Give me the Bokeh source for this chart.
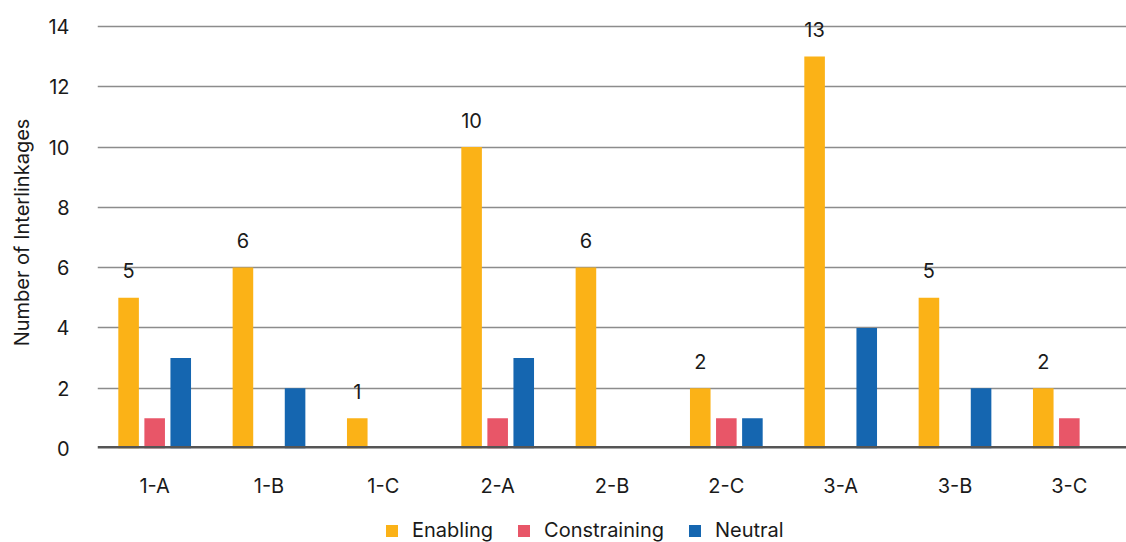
from bokeh.plotting import figure
from bokeh.layouts import column
from bokeh.models import ColumnDataSource, FactorRange, Range1d, Legend, LegendItem, Span, FixedTicker
from bokeh.transform import dodge
from bokeh.core.properties import value
from bokeh.embed import file_html
from bokeh.resources import INLINE

categories = ["1-A", "1-B", "1-C", "2-A", "2-B", "2-C", "3-A", "3-B", "3-C"]
enabling = [5, 6, 1, 10, 6, 2, 13, 5, 2]
constraining = [1, 0, 0, 1, 0, 1, 0, 0, 1]
neutral = [3, 2, 0, 3, 0, 1, 4, 2, 0]
y_ticks = [0, 2, 4, 6, 8, 10, 12, 14]
series_names = ["Enabling", "Constraining", "Neutral"]

FONT = "Inter"
FS = "20px"
TEXT_COLOR = "#1a1a1a"
COLORS = ["#FBB217", "#E85668", "#1566B0"]

src = ColumnDataSource(dict(
    cat=categories,
    en=enabling,
    co=constraining,
    ne=neutral,
    en_lbl=[str(v) for v in enabling],
))

# headroom above 14 keeps the tallest value label inside the plot area
p = figure(
    width=1126, height=500,
    x_range=FactorRange(*categories, range_padding=0),
    y_range=Range1d(0, 14.33),
    output_backend="svg", toolbar_location=None,
    min_border_left=97, min_border_right=0, min_border_top=16, min_border_bottom=49,
)
p.outline_line_color = None
p.background_fill_color = "white"
p.border_fill_color = "white"

bw = 0.18
off = 0.228
for field, dx, color in zip(["en", "co", "ne"], [-off, 0.0, off], COLORS):
    p.vbar(x=dodge("cat", dx, range=p.x_range), top=field, width=bw, source=src,
           fill_color=color, line_color=None)

# value labels above the Enabling bars
p.text(x=dodge("cat", -off, range=p.x_range), y="en", text="en_lbl", source=src,
       text_font=value(FONT), text_font_size=FS, text_color=TEXT_COLOR,
       text_align="center", text_baseline="middle", y_offset=-27)

# baseline
p.add_layout(Span(location=0, dimension="width", line_color="#555555", line_width=5))

p.ygrid.grid_line_color = "#8c8c8c"
p.ygrid.grid_line_width = 1.6
p.xgrid.grid_line_color = None

p.yaxis.ticker = FixedTicker(ticks=y_ticks)
p.yaxis.axis_line_color = None
p.yaxis.major_tick_line_color = None
p.yaxis.minor_tick_line_color = None
p.yaxis.major_label_standoff = 22
p.yaxis.major_label_text_font = FONT
p.yaxis.major_label_text_font_size = FS
p.yaxis.major_label_text_color = TEXT_COLOR
p.yaxis.axis_label = "Number of Interlinkages"
p.yaxis.axis_label_text_font = FONT
p.yaxis.axis_label_text_font_size = FS
p.yaxis.axis_label_text_font_style = "normal"
p.yaxis.axis_label_text_color = TEXT_COLOR
p.yaxis.axis_label_standoff = 11

p.xaxis.axis_line_color = None
p.xaxis.major_tick_line_color = None
p.xaxis.minor_tick_line_color = None
p.xaxis.major_label_standoff = 19
p.xaxis.major_label_text_font = FONT
p.xaxis.major_label_text_font_size = FS
p.xaxis.major_label_text_color = TEXT_COLOR

# legend strip under the chart; swatch renderers have zero height so only the legend shows them
lg = figure(
    width=1126, height=42, x_range=Range1d(0, 1), y_range=Range1d(0, 1),
    output_backend="svg", toolbar_location=None,
    min_border=0, x_axis_location=None, y_axis_location=None,
)
lg.outline_line_color = None
lg.background_fill_color = "white"
lg.border_fill_color = "white"
for g in lg.renderers:
    g.visible = False
lg.xgrid.grid_line_color = None
lg.ygrid.grid_line_color = None
items = []
for name, color in zip(series_names, COLORS):
    r = lg.vbar(x=[0.5], bottom=[0.5], top=[0.5], width=0.0, fill_color=color, line_color=None)
    items.append(LegendItem(label=name, renderers=[r]))

legend = Legend(
    items=items,
    orientation="horizontal",
    location=(287, 0),
    padding=0, margin=0, spacing=23,
    glyph_width=15, glyph_height=15, label_standoff=13, label_height=20,
    label_text_font=FONT, label_text_font_size=FS, label_text_color=TEXT_COLOR,
    background_fill_alpha=0, border_line_color=None,
)
lg.add_layout(legend, "center")

open("out.html", "w").write(file_html(column(p, lg, spacing=0), INLINE))
